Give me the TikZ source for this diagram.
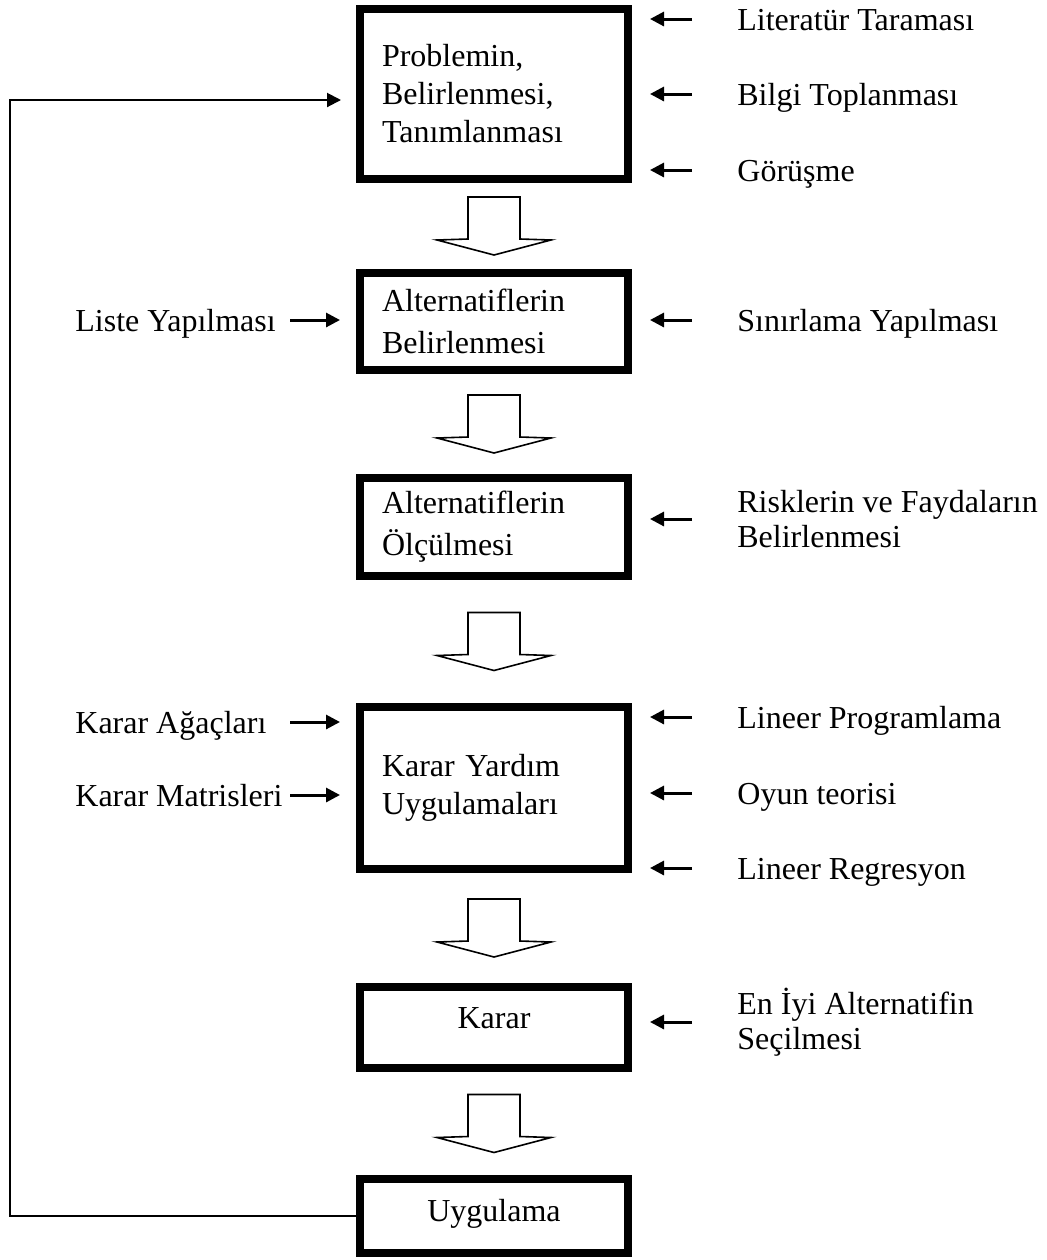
\documentclass[tikz,border=0pt]{standalone}
\usepackage{fontspec}
\setmainfont{Liberation Serif}
\usetikzlibrary{arrows.meta,calc}

\begin{document}
\begin{tikzpicture}[x=0.5pt, y=-0.5pt, >={Triangle[length=7pt,width=7pt]},
  every node/.style={font=\fontsize{16}{19}\selectfont},
  box/.style={draw, line width=4pt, minimum width=134pt, inner xsep=11pt},
  lbox/.style={box, align=left, text width=112pt},
  cbox/.style={box, align=center},
  lab/.style={inner sep=0pt, anchor=west, text height=11pt, text depth=0pt},
  labtwo/.style={inner sep=0pt, anchor=west, align=left, font=\fontsize{16}{17.5}\selectfont},
  side/.style={->, line width=1.5pt},
  fat/.style={draw, line width=0.8pt, line join=miter}]
\useasboundingbox (0,0) rectangle (1046,1260);

% main steps
\node[lbox, minimum height=85pt] (b1) at (494,94) {Problemin,\\Belirlenmesi,\\Tanımlanması};
\node[lbox, minimum height=48.5pt, font=\fontsize{16}{21}\selectfont] (b2) at (494,321.5) {Alternatiflerin\\Belirlenmesi};
\node[lbox, minimum height=49pt, font=\fontsize{16}{21}\selectfont] (b3) at (494,527) {Alternatiflerin\\Ölçülmesi};
\node[lbox, minimum height=81pt] (b4) at (494,788) {Karar Yardım\\Uygulamaları};
\node[cbox, minimum height=40.5pt, text depth=9pt] (b5) at (494,1027.5) {Karar};
\node[cbox, minimum height=37pt, text depth=6pt] (b6) at (494,1216) {Uygulama};

% inputs on the right
\node[lab] (lit) at (737,19) {Literatür Taraması};
\node[lab] (bilgi) at (737,94) {Bilgi Toplanması};
\node[lab] (gorus) at (737,170) {Görüşme};
\node[lab] (sinir) at (737,320) {Sınırlama Yapılması};
\node[labtwo] (risk) at (737,519) {Risklerin ve Faydaların\\Belirlenmesi};
\node[lab] (linp) at (737,717) {Lineer Programlama};
\node[lab] (oyun) at (737,793) {Oyun teorisi};
\node[lab] (linr) at (737,868) {Lineer Regresyon};
\node[labtwo] (eniyi) at (737,1022) {En İyi Alternatifin\\Seçilmesi};

% inputs on the left
\node[lab] (liste) at (75,320) {Liste Yapılması};
\node[lab] (agac) at (75,722) {Karar Ağaçları};
\node[lab] (matr) at (75,795) {Karar Matrisleri};

\coordinate (tr) at (692,0);
\coordinate (tl) at (290,0);
\coordinate (fb) at (10,100);

\draw[side, shorten >=9pt] (lit.west -| tr) -- (lit.west -| b1.east);
\draw[side, shorten >=9pt] (bilgi.west -| tr) -- (bilgi.west -| b1.east);
\draw[side, shorten >=9pt] (gorus.west -| tr) -- (gorus.west -| b1.east);
\draw[side, shorten >=9pt] (sinir.west -| tr) -- (sinir.west -| b2.east);
\draw[side, shorten >=9pt] (risk.west -| tr) -- (risk.west -| b3.east);
\draw[side, shorten >=9pt] (linp.west -| tr) -- (linp.west -| b4.east);
\draw[side, shorten >=9pt] (oyun.west -| tr) -- (oyun.west -| b4.east);
\draw[side, shorten >=9pt] (linr.west -| tr) -- (linr.west -| b4.east);
\draw[side, shorten >=9pt] (eniyi.west -| tr) -- (eniyi.west -| b5.east);
\draw[side, shorten >=8pt] (liste.east -| tl) -- (liste.east -| b2.west);
\draw[side, shorten >=8pt] (agac.east -| tl) -- (agac.east -| b4.west);
\draw[side, shorten >=8pt] (matr.east -| tl) -- (matr.east -| b4.west);

% feedback loop
\draw[->, line width=1pt, shorten >=7.5pt] (b6.west) -| (fb) -- (fb -| b1.west);

% hollow arrows between the steps
\foreach \a/\b in {b1/b2,b2/b3,b3/b4,b4/b5,b5/b6}
  \draw[fat] ($(\a.south)!0.5!(\b.north)$) ++(-26,-29) -- ++(0,42) -- ++(-31,1)
    -- ++(57,15) -- ++(57,-15) -- ++(-31,-1) -- ++(0,-42) -- cycle;
\end{tikzpicture}
\end{document}
